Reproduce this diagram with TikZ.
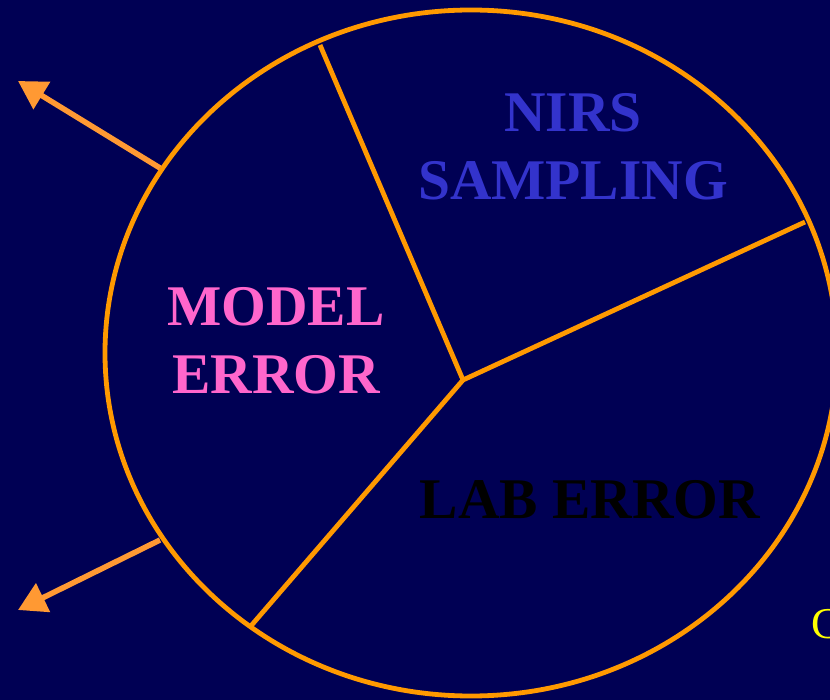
\documentclass[tikz,border=0pt]{standalone}
\usepackage{fontspec}
\setmainfont{Liberation Serif}
\usetikzlibrary{arrows.meta}
\definecolor{bg}{RGB}{0,0,84}
\definecolor{ring}{RGB}{255,153,0}
\definecolor{arr}{RGB}{255,153,51}
\definecolor{nirs}{RGB}{51,51,204}
\definecolor{model}{RGB}{255,102,204}
\definecolor{yel}{RGB}{255,255,0}
\tikzset{
  ringline/.style={draw=ring, line width=4.8pt},
  outarrow/.style={draw=arr, line width=5.5pt, -{Triangle[length=28pt,width=31pt]}},
  label/.style={font=\fontsize{57.5}{68}\selectfont\bfseries, align=center, inner sep=0pt}
}
\begin{document}
\begin{tikzpicture}[x=1pt,y=-1pt]
\useasboundingbox (0,0) rectangle (830,700);
\fill[bg] (0,0) rectangle (830,700);
\clip (0,0) rectangle (830,700);
\coordinate (c) at (463,380);
\coordinate (p1) at (320,45);
\coordinate (p2) at (805,222);
\coordinate (p3) at (250,627);
\coordinate (a1) at (160,168);
\coordinate (t1) at (18,81);
\coordinate (a2) at (160,540);
\coordinate (t2) at (18,610);
\draw[ringline] (471,353) ellipse [x radius=366pt, y radius=343pt];
\draw[ringline] (c) -- (p1);
\draw[ringline] (c) -- (p2);
\draw[ringline] (c) -- (p3);
\draw[outarrow] (a1) -- (t1);
\draw[outarrow] (a2) -- (t2);
\node[label, text=nirs] (nirs) at (573,147) {NIRS\\SAMPLING};
\node[label, text=model] (model) at (276,341) {MODEL\\ERROR};
\node[label, text=black] (lab) at (590,500) {LAB ERROR};
\node[anchor=base west, inner sep=0pt, text=yel, font=\fontsize{44}{44}\selectfont] (cut) at (811,638) {C};
\end{tikzpicture}
\end{document}
